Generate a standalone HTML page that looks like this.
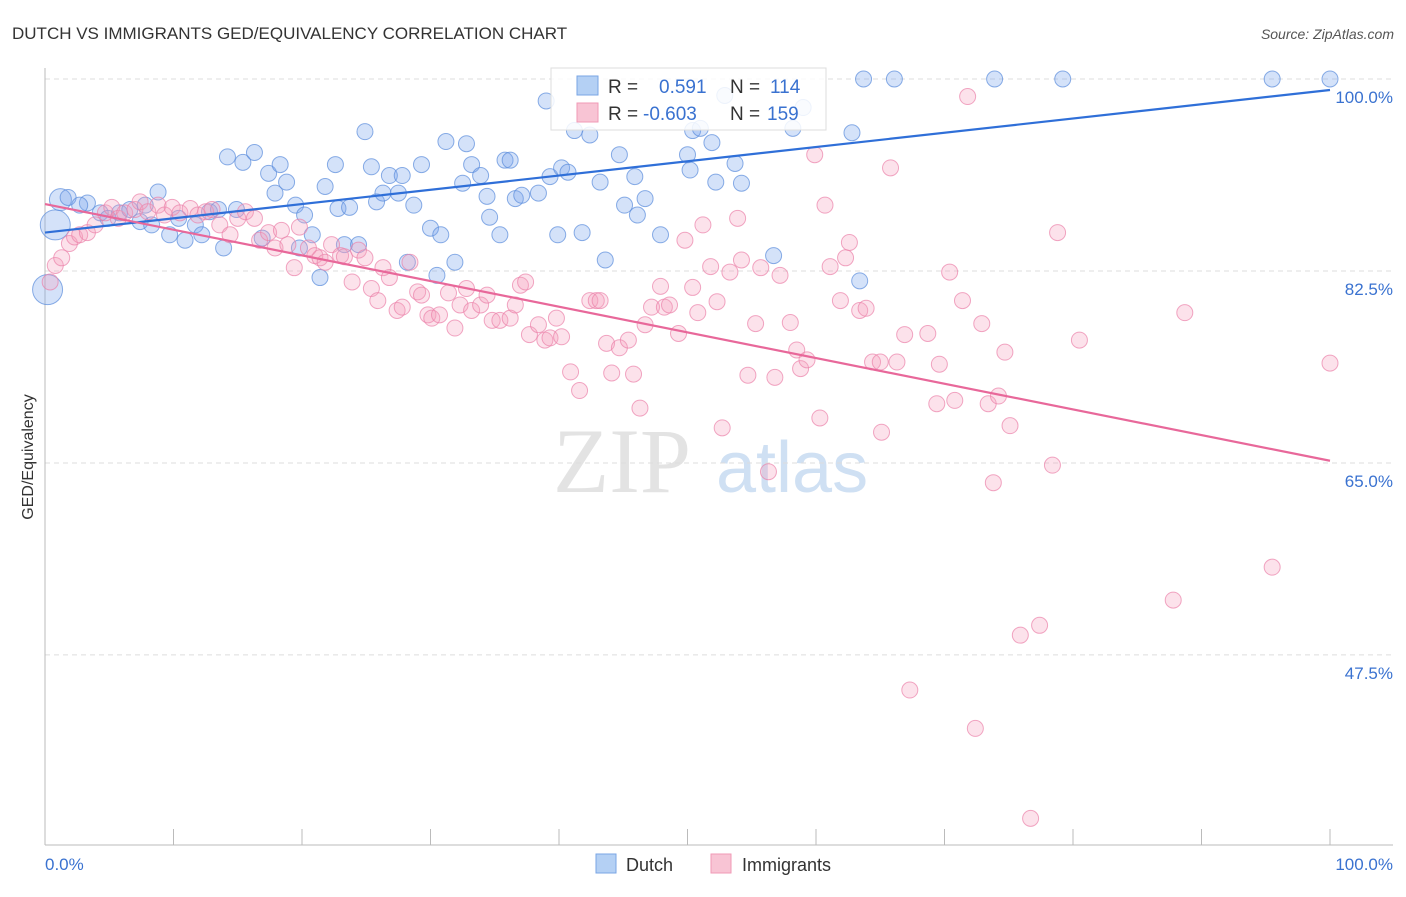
<!DOCTYPE html>
<html><head><meta charset="utf-8"><style>
body{margin:0;background:#fff;font-family:"Liberation Sans",sans-serif;}
</style></head><body>
<svg id="chart" width="1406" height="892" xmlns="http://www.w3.org/2000/svg">
<text x="12" y="39" font-size="17" fill="#333">DUTCH VS IMMIGRANTS GED/EQUIVALENCY CORRELATION CHART</text>
<text x="1394" y="39" font-size="14" fill="#555" font-style="italic" text-anchor="end">Source: ZipAtlas.com</text>
<g>
<text x="553" y="492" font-size="92" fill="#d8d8d8" font-family="Liberation Serif,serif" opacity="0.7">ZIP</text>
<text x="716" y="492" font-size="72" fill="#bcd3ee" opacity="0.7">atlas</text>
</g>
<g id="grid"></g>
<g id="marks"></g>
<text transform="translate(33,457) rotate(-90)" font-size="16" fill="#333" text-anchor="middle">GED/Equivalency</text>
<text x="45" y="870" font-size="17" fill="#3a72d0">0.0%</text>
<text x="1393" y="870" font-size="17" fill="#3a72d0" text-anchor="end">100.0%</text>
<g>
<rect x="551" y="68" width="275" height="62" fill="#fff" fill-opacity="0.85" stroke="#ddd"/>
<rect x="577" y="76" width="21" height="19" fill="#b4d0f4" stroke="#7aa6e4"/>
<rect x="577" y="103" width="21" height="19" fill="#f8c4d4" stroke="#f09ab6"/>
<text x="608" y="93" font-size="19" fill="#333">R =</text>
<text x="659" y="93" font-size="19" fill="#3a72d0">0.591</text>
<text x="730" y="93" font-size="19" fill="#333">N =</text>
<text x="770" y="93" font-size="19" fill="#3a72d0">114</text>
<text x="608" y="120" font-size="19" fill="#333">R =</text>
<text x="643" y="120" font-size="19" fill="#3a72d0">-0.603</text>
<text x="730" y="120" font-size="19" fill="#333">N =</text>
<text x="767" y="120" font-size="19" fill="#3a72d0">159</text>
</g>
<g>
<rect x="596" y="854" width="20" height="19" fill="#b4d0f4" stroke="#7aa6e4"/>
<text x="626" y="871" font-size="18" fill="#333">Dutch</text>
<rect x="711" y="854" width="20" height="19" fill="#f8c4d4" stroke="#f09ab6"/>
<text x="742" y="871" font-size="18" fill="#333">Immigrants</text>
</g>
</svg>
<script>
const yTicks=[100,82.5,65,47.5];
const yTickLabels=["100.0%","82.5%","65.0%","47.5%"];
const dutchX=[1.2,1.8,3.3,2.7,4.3,4.9,5.8,6.6,7.4,7.8,8.3,8.8,9.7,10.4,10.9,11.7,12.2,12.8,13.5,13.9,14.2,14.9,15.4,16.3,16.9,17.4,17.9,18.3,18.8,19.5,20.2,19.8,20.8,21.4,21.8,22.6,22.8,23.7,23.3,24.4,24.9,25.4,25.8,26.3,26.8,27.5,27.8,28.2,28.7,29.3,30.0,30.5,30.8,31.2,31.9,32.5,32.8,33.2,33.9,34.4,34.6,35.4,35.8,36.2,36.6,37.1,38.4,39.0,39.3,39.9,40.2,40.7,41.2,41.8,42.4,43.2,43.6,44.7,45.1,45.9,46.1,46.7,47.9,50.0,50.2,50.4,51.0,51.9,52.2,52.9,53.7,54.2,56.7,58.2,59.0,62.8,63.4,63.7,66.1,73.9,79.2,95.5,100,0.2,0.8];
const dutchY=[89.0,89.2,88.7,88.5,87.8,87.3,87.8,88.1,87.0,88.5,86.7,89.7,85.8,87.3,85.3,86.7,85.8,87.9,88.1,84.6,92.9,88.1,92.4,93.3,85.5,91.4,89.6,92.2,90.6,88.5,87.6,84.6,85.8,81.9,90.2,92.2,88.2,88.3,84.9,84.9,95.2,92.0,88.8,89.6,91.2,89.6,91.2,83.3,88.5,92.2,86.4,82.1,85.8,94.3,83.3,90.5,94.1,92.2,91.2,89.3,87.4,85.8,92.6,92.6,89.1,89.4,89.6,98.0,91.1,85.8,91.9,91.5,95.3,86.0,94.9,90.6,83.5,93.1,88.5,91.1,87.6,89.1,85.8,93.1,91.7,95.3,95.5,94.2,90.6,98.5,92.3,90.5,83.9,95.5,97.4,95.1,81.6,100,100,100,100,100,100,80.8,86.7];
const dutchWeight=[2,1,1,1,1,1,1,1,1,1,1,1,1,1,1,1,1,1,1,1,1,1,1,1,1,1,1,1,1,1,1,1,1,1,1,1,1,1,1,1,1,1,1,1,1,1,1,1,1,1,1,1,1,1,1,1,1,1,1,1,1,1,1,1,1,1,1,1,1,1,1,1,1,1,1,1,1,1,1,1,1,1,1,1,1,1,1,1,1,1,1,1,1,1,1,1,1,1,1,1,1,1,1,3,3];
const immX=[0.4,0.8,1.3,1.9,2.3,2.7,3.3,3.9,4.7,5.2,5.7,6.2,7.0,7.4,8.0,8.8,9.3,9.9,10.5,11.3,11.9,12.5,13.0,13.6,14.4,15.0,15.6,16.3,16.7,17.4,17.9,18.4,18.9,19.4,19.8,20.5,21.0,21.4,21.8,22.3,23.0,23.3,23.9,24.4,24.9,25.4,25.9,26.3,26.8,27.4,27.8,28.4,29.0,29.3,29.8,30.1,30.7,31.4,31.9,32.3,32.8,33.2,33.9,34.4,34.8,35.4,36.2,36.6,37.0,37.4,37.7,38.4,38.9,39.3,39.8,40.2,40.9,41.6,42.4,42.9,43.2,43.7,44.1,44.7,45.4,45.8,46.3,46.7,47.2,47.9,48.2,48.6,49.3,49.8,50.4,50.8,51.2,51.8,52.3,52.7,53.3,53.9,54.2,54.7,55.3,55.7,56.3,56.8,57.2,58.0,58.5,58.8,59.3,59.9,60.3,60.7,61.1,61.9,62.3,62.6,63.4,63.9,64.4,65.0,65.1,65.8,66.3,66.9,67.3,68.7,69.4,69.6,70.4,70.8,71.4,71.8,72.4,72.9,73.4,73.8,74.2,74.7,75.1,75.9,76.7,77.4,78.4,78.8,80.5,87.8,88.7,95.5,100];
const immY=[81.5,83.0,83.7,85.0,85.6,85.8,86.0,86.7,87.8,88.3,87.3,87.8,88.1,88.8,87.9,88.5,87.6,88.3,87.8,88.2,87.6,87.9,88.1,86.7,85.8,87.3,87.9,87.3,85.3,86.0,84.6,86.2,84.9,82.8,86.5,84.6,83.9,83.7,83.3,84.9,83.9,83.8,81.5,84.4,83.7,80.9,79.8,82.8,81.9,78.9,79.2,83.3,80.6,80.3,78.5,78.2,78.5,80.5,77.3,79.4,80.9,78.9,79.4,80.3,78.0,78.0,78.2,79.4,81.2,81.5,76.7,77.6,76.2,76.4,78.2,76.5,73.3,71.6,79.8,79.8,79.8,75.9,73.2,75.5,76.2,73.1,70.0,77.6,79.2,81.1,79.2,79.4,76.8,85.3,81.0,78.7,86.7,82.9,79.7,68.2,82.4,87.3,83.5,73.0,77.7,82.8,64.2,72.8,82.1,77.8,75.3,73.6,74.4,93.1,69.1,88.5,82.9,79.8,83.7,85.1,78.9,79.1,74.2,74.2,67.8,91.9,74.2,76.7,44.3,76.8,70.4,74.0,82.4,70.7,79.8,98.4,40.8,77.7,70.4,63.2,71.1,75.1,68.4,49.3,32.6,50.2,64.8,86.0,76.2,52.5,78.7,55.5,74.1];
const dutchTrend=[86.0,99.0];
const immTrend=[88.6,65.2];

const X0=45,X1=1330,Y100=79,PXPER=10.97;
const sx=v=>X0+(X1-X0)*v/100;
const sy=v=>Y100+(100-v)*PXPER;
const NS="http://www.w3.org/2000/svg";
function mk(tag,attrs,parent){const e=document.createElementNS(NS,tag);for(const k in attrs)e.setAttribute(k,attrs[k]);parent.appendChild(e);return e;}
const grid=document.getElementById('grid'),marks=document.getElementById('marks');
yTicks.forEach((t,i)=>{
  const l=mk('line',{x1:X0,x2:1393,y1:sy(t),y2:sy(t),stroke:'#ddd','stroke-dasharray':'5,4'},grid);
  
  
  const tx=mk('text',{x:1393,y:sy(t)+24,'font-size':17,fill:'#3a72d0','text-anchor':'end'},grid);
  tx.textContent=yTickLabels[i];
  
  
});
const ax=mk('line',{x1:X0,x2:X0,y1:68,y2:845,stroke:'#bbb'},grid);


const bx=mk('line',{x1:X0,x2:1393,y1:845,y2:845,stroke:'#bbb'},grid);


for(let i=0;i<=10;i++){
  const tk=mk('line',{x1:sx(i*10),x2:sx(i*10),y1:829,y2:845,stroke:'#bbb'},grid);
  
  
}
dutchX.forEach((x,i)=>{
  const r=dutchWeight[i]===3?15:(dutchWeight[i]===2?11:8);
  const c=mk('circle',{cx:sx(x),cy:sy(dutchY[i]),r:r,fill:'rgba(120,165,235,0.32)',stroke:'rgba(90,140,220,0.7)','stroke-width':1},marks);
  
  
});
immX.forEach((x,i)=>{
  const c=mk('circle',{cx:sx(x),cy:sy(immY[i]),r:8,fill:'rgba(245,160,190,0.3)',stroke:'rgba(235,130,170,0.7)','stroke-width':1},marks);
  
  
});
const dl=mk('line',{x1:sx(0),y1:sy(dutchTrend[0]),x2:sx(100),y2:sy(dutchTrend[1]),stroke:'#2f6fd8','stroke-width':2.2},marks);


const il=mk('line',{x1:sx(0),y1:sy(immTrend[0]),x2:sx(100),y2:sy(immTrend[1]),stroke:'#e8689a','stroke-width':2.2},marks);


</script>
</body></html>
